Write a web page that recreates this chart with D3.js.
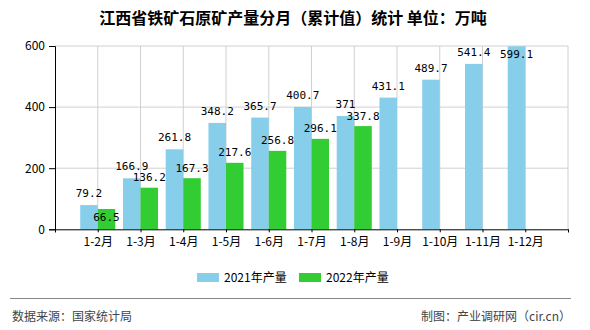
<!DOCTYPE html>
<html><head><meta charset="utf-8">
<script src="https://cdn.jsdelivr.net/npm/d3@7/dist/d3.min.js"></script>
<style>
html,body{margin:0;padding:0;background:#fff;}
text{font-family:"Noto Sans CJK SC","Noto Sans",sans-serif;}
</style></head>
<body><svg id="c" width="590" height="330"></svg>
<script>
const title = "江西省铁矿石原矿产量分月（累计值）统计 单位：万吨";
const categories = ["1-2月","1-3月","1-4月","1-5月","1-6月","1-7月","1-8月","1-9月","1-10月","1-11月","1-12月"];
const values2021 = [79.2,166.9,261.8,348.2,365.7,400.7,371,431.1,489.7,541.4,599.1];
const values2022 = [66.5,136.2,167.3,217.6,256.8,296.1,337.8,null,null,null,null];
const seriesNames = ["2021年产量","2022年产量"];
const colors = ["#87CEEB","#32CD32"];
const yTicks = [0,200,400,600];
const sourceText = "数据来源：国家统计局";
const madeText = "制图：产业调研网（cir.cn）";

const svg = d3.select("#c");
svg.append("rect").attr("width",590).attr("height",330).attr("fill","#fff");

const L=55, R=568, T=46, B=229.3;
const domain = ["_s", ...categories, "_e"];
const x = d3.scalePoint().domain(domain).range([L,R]);
const y = d3.scaleLinear().domain([0,600]).range([B,T]);
const bw = x.step()*0.41;

// grid
const g = svg.append("g");
g.selectAll(".hg").data(yTicks.filter(t=>t>0)).join("line")
  .attr("x1",L).attr("x2",R).attr("y1",d=>y(d)).attr("y2",d=>y(d))
  .attr("stroke","#d0d0d0").attr("stroke-width",1);
g.selectAll(".vg").data(domain.slice(1)).join("line")
  .attr("x1",d=>x(d)).attr("x2",d=>x(d)).attr("y1",T).attr("y2",B)
  .attr("stroke","#d0d0d0").attr("stroke-width",1);

// bars
const rows = categories.map((c,i)=>({c, a:values2021[i], b:values2022[i]}));
svg.append("g").selectAll("rect").data(rows).join("rect")
  .attr("x",d=>x(d.c)-bw).attr("width",bw)
  .attr("y",d=>y(d.a)).attr("height",d=>B-y(d.a)).attr("fill",colors[0]);
svg.append("g").selectAll("rect").data(rows.filter(d=>d.b!=null)).join("rect")
  .attr("x",d=>x(d.c)).attr("width",bw)
  .attr("y",d=>y(d.b)).attr("height",d=>B-y(d.b)).attr("fill",colors[1]);

// axes
const yAxis = d3.axisLeft(y).tickValues(yTicks).tickSize(6).tickPadding(4).tickFormat(d3.format("d"));
const ya = svg.append("g").attr("transform",`translate(${L},0)`).call(yAxis);
ya.select(".domain").attr("stroke","#000");
ya.selectAll(".tick line").attr("stroke","#000");
ya.selectAll("text").attr("font-size",12).attr("fill","#000");

const xAxis = d3.axisBottom(x).tickSize(3).tickPadding(5).tickFormat(d=>d.startsWith("_")?"":d);
const xa = svg.append("g").attr("transform",`translate(0,${B})`).call(xAxis);
xa.select(".domain").attr("stroke","#000");
xa.selectAll(".tick line").attr("stroke","#000");
xa.selectAll("text").attr("font-size",12).attr("fill","#000");

// value labels
const fs=11, capH=8;
function box(cx, base, txt){const w=txt.length*6.6; return {x0:cx-w/2,x1:cx+w/2,y0:base-capH,y1:base};}
function ov(a,b){return a.x0<b.x1&&b.x0<a.x1&&a.y0<b.y1&&b.y0<a.y1;}
const labels=[];
rows.forEach(d=>{
  const cx=x(d.c)-bw/2, top=y(d.a), t=String(d.a);
  let base=top-8; if(base-capH<T) base=top+12;
  labels.push({cx,base,t,bx:box(cx,base,t)});
  if(d.b!=null){
    const cx2=x(d.c)+bw/2, top2=y(d.b), t2=String(d.b);
    let b2=top2-6.5;
    if(ov(box(cx2,b2,t2),labels[labels.length-1].bx) || b2-capH<T) b2=top2+12;
    labels.push({cx:cx2,base:b2,t:t2});
  }
});
svg.append("g").selectAll("text").data(labels).join("text")
  .attr("x",d=>d.cx).attr("y",d=>d.base).attr("text-anchor","middle")
  .style("font-family","'DejaVu Sans Mono','Liberation Mono',monospace")
  .attr("font-size",fs).attr("fill","#000").text(d=>d.t);

// title
svg.append("text").attr("x",293).attr("y",24).attr("text-anchor","middle")
  .attr("font-size",16).attr("font-weight","bold").attr("fill","#000").text(title);

// legend
const lg = svg.append("g");
const lx=[197,299];
seriesNames.forEach((n,i)=>{
  lg.append("rect").attr("x",lx[i]).attr("y",273).attr("width",22).attr("height",9).attr("fill",colors[i]);
  lg.append("text").attr("x",lx[i]+27).attr("y",282).attr("font-size",12).attr("fill","#000").text(n);
});

// footer
svg.append("line").attr("x1",10).attr("x2",571).attr("y1",298.5).attr("y2",298.5).attr("stroke","#888").attr("stroke-width",1);
svg.append("text").attr("x",12).attr("y",321).attr("font-size",12).attr("fill","#444").text(sourceText);
svg.append("text").attr("x",571).attr("y",321).attr("text-anchor","end").attr("font-size",12).attr("fill","#444").text(madeText);
</script></body></html>
